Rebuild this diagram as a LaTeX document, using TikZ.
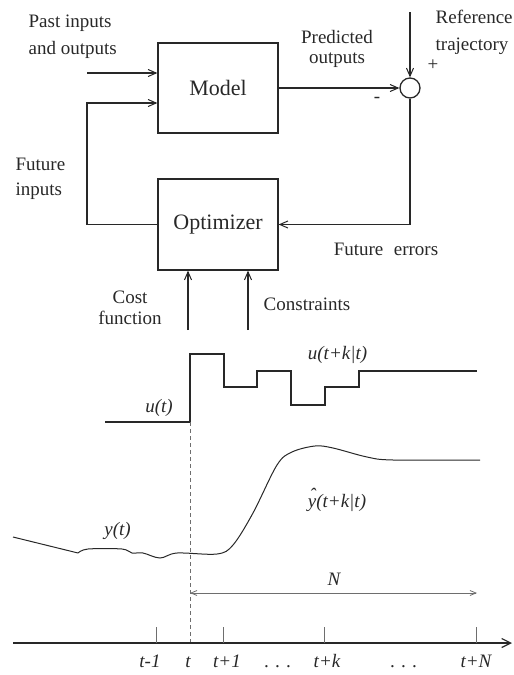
\documentclass[tikz,border=0pt]{standalone}
\usepackage{fontspec}
\setmainfont{Liberation Serif}
\usetikzlibrary{arrows.meta}
\definecolor{mpcInk}{RGB}{40,40,40}
\definecolor{mpcGrey}{RGB}{110,110,110}

\begin{document}
\begin{tikzpicture}[x=1pt,y=-1pt,line width=1.3pt,draw=mpcInk,text=mpcInk,
    font=\fontsize{19}{27}\selectfont,
    arr/.style={-{Straight Barb[length=8pt,width=7pt,line width=1pt]}},
    blk/.style={draw,minimum width=120pt,font=\fontsize{22}{26}\selectfont},
    lbl/.style={inner sep=0pt},
    tlbl/.style={inner sep=0pt,anchor=base,font=\fontsize{19}{24}\selectfont\itshape}]
    \useasboundingbox (0,0) rectangle (514,675);

    % Block diagram: model, optimizer and comparison
    \node[blk,minimum height=90pt] (model) at (218,88) {Model};
    \node[blk,minimum height=91pt] (opt) at (218,224.5) {Optimizer};
    \node[draw,circle,minimum size=20pt,inner sep=0pt] (sum) at (410,88) {};

    % Signals into and out of the blocks
    \coordinate (past) at (87,73);
    \coordinate (fin) at (87,103);
    \coordinate (ref) at (410,12);
    \coordinate (cost) at (188,330);
    \coordinate (cons) at (248,330);
    \draw[arr] (past) -- (past -| model.west);
    \draw[arr] (opt.west) -| (fin) -- (fin -| model.west);
    \draw[arr] (model.east) -- (sum.west);
    \draw[arr] (ref) -- (sum.north);
    \draw[arr] (sum.south) |- (opt.east);
    \draw[arr] (cost) -- (cost |- opt.south);
    \draw[arr] (cons) -- (cons |- opt.south);

    % Labels of the block diagram
    \node[lbl,align=left,anchor=west] (pastlbl) at (28,36.5) {Past inputs\\and outputs};
    \node[lbl,align=center] (predlbl) at (337,49) {Predicted\\[-7pt]outputs};
    \node[lbl,align=left,anchor=west] (reflbl) at (435,32.5) {Reference\\trajectory};
    \node[lbl] (plus) at (433,65) {+};
    \node[lbl] (minus) at (377,100) {-};
    \node[lbl,align=left,anchor=west] (finlbl) at (15,178.5) {Future\\[-2pt]inputs};
    \node[lbl] (errlbl) at (386,249) {Future\hspace{0.3em} errors};
    \node[lbl,align=center] (costlbl) at (130,307.5) {Cost\\[-6pt]function};
    \node[lbl] (conslbl) at (307,304) {Constraints};

    % Control sequence u and predicted output y
    \draw[line width=2pt] (105,422) -- (190,422) -- (190,354) -- (224,354) -- (224,387)
        -- (257,387) -- (257,371) -- (291,371) -- (291,405) -- (325,405) -- (325,387)
        -- (359,387) -- (359,371) -- (477,371);
    \draw[mpcGrey,line width=0.8pt,dash pattern=on 4pt off 3pt] (190,422) -- (190,643);
    \draw[line width=1pt] (13,537) -- (78,553)
        plot[smooth,tension=0.55] coordinates {(78,553) (88,549) (122,549) (132,553)
        (143,553) (160,558) (177,553) (217,554) (233,545) (253,513) (277,465)
        (292,452) (315,446) (333,448) (367,457) (393,460) (480,460)};
    \node[tlbl] (ulbl) at (159,412) {u(t)};
    \node[tlbl] (ukl) at (337.5,359) {u(t+k|t)};
    \node[tlbl] (yhatl) at (337,507) {\makebox[0pt][l]{\hspace{1.5pt}\raisebox{6pt}{\char"02C6}}y(t+k|t)};
    \node[tlbl] (ylbl) at (117.5,535) {y(t)};

    % Horizon and time axis
    \draw[mpcGrey,line width=0.8pt,{Straight Barb[length=6pt,width=5pt]}-{Straight Barb[length=6pt,width=5pt]}]
        (190,593) -- (477,593);
    \node[tlbl] (nlbl) at (334,585) {N};
    \draw[line width=1.8pt,-{Straight Barb[length=9pt,width=9pt,line width=1.2pt]}] (13,643) -- (512,643);
    \foreach \tx in {156,223,324,476}
        \draw[mpcGrey,line width=1pt] (\tx,627) -- (\tx,643);
    \node[tlbl] (tm1) at (150,667) {t-1};
    \node[tlbl] (t0) at (188,667) {t};
    \node[tlbl] (tp1) at (227,667) {t+1};
    \node[tlbl] (dots1) at (278,667) {.\,\,.\,\,.};
    \node[tlbl] (tpk) at (327,667) {t+k};
    \node[tlbl] (dots2) at (404,667) {.\,\,.\,\,.};
    \node[tlbl] (tpn) at (476,667) {t+N};
\end{tikzpicture}
\end{document}
